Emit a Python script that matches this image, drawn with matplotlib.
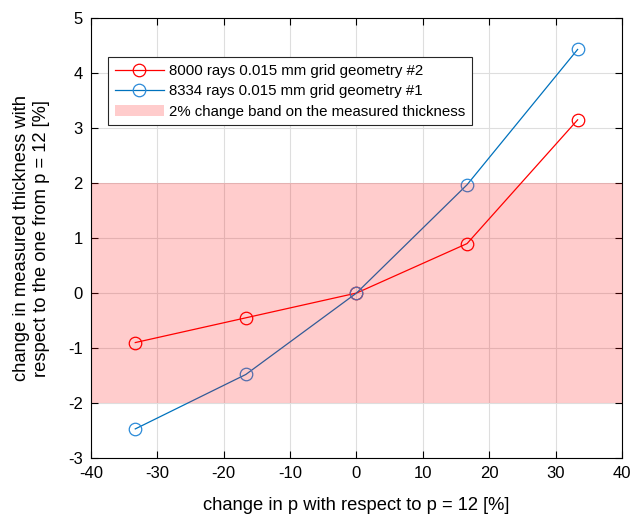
import matplotlib.pyplot as plt

plt.rcParams['font.family'] = ['Liberation Sans', 'DejaVu Sans']
plt.rcParams['axes.unicode_minus'] = False

# change in p relative to p = 12, in percent
dp = [-33.33, -16.67, 0.0, 16.67, 33.33]
# change in measured thickness, percent
geo2 = [-0.90, -0.45, 0.0, 0.90, 3.15]
geo1 = [-2.47, -1.48, 0.0, 1.97, 4.43]
band = 2.0

fig = plt.figure(figsize=(6.32, 5.17), dpi=100)
ax = fig.add_axes([0.144, 0.114, 0.840, 0.851])

ax.plot(dp, geo2, color='#ff0000', lw=0.9, marker='o', ms=9, mfc='none',
        mew=0.9, label='8000 rays 0.015 mm grid geometry #2', zorder=2)
ax.plot(dp, geo1, color='#0072bd', lw=0.9, marker='o', ms=9, mfc='none',
        mec='#2a8ad8', mew=0.9, label='8334 rays 0.015 mm grid geometry #1', zorder=2)
# translucent band drawn over the curves
ax.axhspan(-band, band, facecolor='#ff0000', alpha=0.2, lw=0, zorder=3,
           label='2% change band on the measured thickness')

ax.set_xlim(-40, 40)
ax.set_ylim(-3, 5)
ax.set_xticks(range(-40, 41, 10))
ax.set_yticks(range(-3, 6))
ax.grid(True, color='#dedede', lw=0.8)
ax.set_axisbelow(True)
ax.tick_params(direction='in', top=True, right=True, labelsize=12, length=5, pad=6)
for s in ax.spines.values():
    s.set_linewidth(0.8)
    s.set_zorder(5)

ax.set_xlabel('change in p with respect to p = 12 [%]', fontsize=13.2)
ax.set_ylabel('change in measured thickness with\nrespect to the one from p = 12 [%]',
              fontsize=13.2, linespacing=1.25)
ax.xaxis.set_label_coords(0.5, -0.088)
ax.yaxis.set_label_coords(-0.077, 0.5)

leg = ax.legend(loc='upper left', bbox_to_anchor=(0.032, 0.911), borderaxespad=0,
                fontsize=10.8, fancybox=False, framealpha=1, edgecolor='#262626',
                handlelength=3.3, handletextpad=0.3, borderpad=0.45,
                labelspacing=0.42)
leg.get_frame().set_linewidth(0.8)

fig.savefig('out.png', dpi=100)
